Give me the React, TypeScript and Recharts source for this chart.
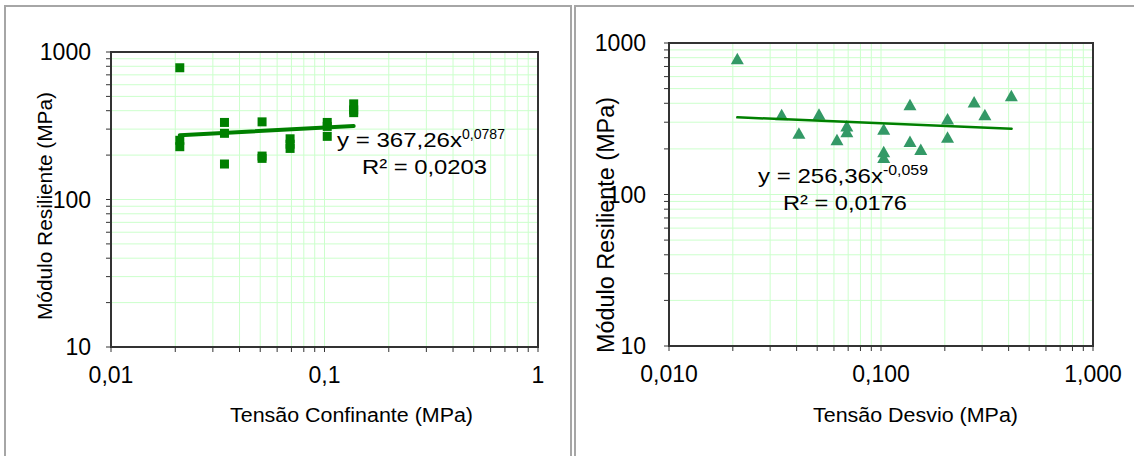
import React from 'react';
import {
  ScatterChart,
  Scatter,
  XAxis,
  YAxis,
  CartesianGrid,
  ReferenceArea,
} from 'recharts';

// ensaio triaxial: 18 pares de tensões e o módulo medido em cada um
const tensaoConfinante = [
  0.021, 0.021, 0.021, 0.034, 0.034, 0.034, 0.051, 0.051, 0.051,
  0.069, 0.069, 0.069, 0.103, 0.103, 0.103, 0.137, 0.137, 0.137,
];
const tensaoDesvio = [
  0.021, 0.041, 0.062, 0.034, 0.069, 0.103, 0.051, 0.103, 0.154,
  0.069, 0.137, 0.206, 0.103, 0.206, 0.309, 0.137, 0.275, 0.412,
];
const moduloResiliente = [
  782, 252, 228, 333, 281, 174, 336, 190, 197,
  258, 222, 237, 268, 313, 333, 388, 405, 445,
];

// extremos das linhas de tendência (potência)
const trendConfinante = [
  { x: 0.021, y: 273 },
  { x: 0.137, y: 315 },
];
const trendDesvio = [
  { x: 0.021, y: 323 },
  { x: 0.413, y: 272 },
];

const xTicks = [
  0.01, 0.02, 0.03, 0.04, 0.05, 0.06, 0.07, 0.08, 0.09,
  0.1, 0.2, 0.3, 0.4, 0.5, 0.6, 0.7, 0.8, 0.9, 1,
];
const yTicks = [
  10, 20, 30, 40, 50, 60, 70, 80, 90,
  100, 200, 300, 400, 500, 600, 700, 800, 900, 1000,
];
const xLabelsConfinante = new Map([[0.01, '0,01'], [0.1, '0,1'], [1, '1']]);
const xLabelsDesvio = new Map([[0.01, '0,010'], [0.1, '0,100'], [1, '1,000']]);
const yLabels = new Map([[10, '10'], [100, '100'], [1000, '1000']]);

const confinanteData = tensaoConfinante.map((x, i) => ({ x, y: moduloResiliente[i] }));
const desvioData = tensaoDesvio.map((x, i) => ({ x, y: moduloResiliente[i] }));

const FONT = '"Liberation Sans", Arial, sans-serif';
const TICK_SIZE = 23;
const axisDark = '#333333';
const gridGreen = '#ccffcc';

const Square = (props: any) => {
  const { cx, cy } = props;
  return <rect x={cx - 4.5} y={cy - 4.5} width={9} height={9} fill='#008000' />;
};

const Triangle = (props: any) => {
  const { cx, cy } = props;
  return (
    <polygon
      points={`${cx},${cy - 6.5} ${cx + 6.5},${cy + 5} ${cx - 6.5},${cy + 5}`}
      fill='#339966'
    />
  );
};

const NoDot = () => <g />;

interface PanelProps {
  width: number;
  margin: { top: number; right: number; bottom: number; left: number };
  data: { x: number; y: number }[];
  trend: { x: number; y: number }[];
  xLabels: Map<number, string>;
  shape: (p: any) => React.ReactElement;
  trendWidth: number;
  yTickMargin: number;
}

const LogPanel: React.FC<PanelProps> = ({
  width,
  margin,
  data,
  trend,
  xLabels,
  shape,
  trendWidth,
  yTickMargin,
}) => (
  <ScatterChart width={width} height={456} margin={margin}>
    <CartesianGrid stroke={gridGreen} strokeWidth={1} />
    <XAxis
      type='number'
      dataKey='x'
      scale='log'
      domain={[0.01, 1]}
      allowDataOverflow
      ticks={xTicks}
      interval={0}
      height={30}
      tickSize={5}
      tickMargin={15}
      fontSize={TICK_SIZE}
      fontFamily={FONT}
      tick={{ fill: '#000', fontSize: TICK_SIZE, fontFamily: FONT }}
      tickLine={{ stroke: axisDark }}
      axisLine={{ stroke: axisDark, strokeWidth: 2 }}
      tickFormatter={(v: number) => xLabels.get(v) ?? ''}
    />
    <YAxis
      type='number'
      dataKey='y'
      scale='log'
      domain={[10, 1000]}
      allowDataOverflow
      ticks={yTicks}
      interval={0}
      width={60}
      tickSize={5}
      tickMargin={yTickMargin}
      fontSize={TICK_SIZE}
      fontFamily={FONT}
      tick={{ fill: '#000', fontSize: TICK_SIZE, fontFamily: FONT }}
      tickLine={{ stroke: axisDark }}
      axisLine={{ stroke: axisDark, strokeWidth: 2 }}
      tickFormatter={(v: number) => yLabels.get(v) ?? ''}
    />
    <ReferenceArea
      x1={0.01}
      x2={1}
      y1={10}
      y2={1000}
      fill='none'
      stroke={axisDark}
      strokeWidth={2}
      ifOverflow='visible'
    />
    <Scatter data={data} shape={shape} isAnimationActive={false} />
    <Scatter
      data={trend}
      shape={NoDot}
      line={{ stroke: '#008000', strokeWidth: trendWidth, strokeLinecap: 'round' }}
      isAnimationActive={false}
    />
  </ScatterChart>
);

const App: React.FC = () => {
  return (
    <div
      style={{
        position: 'absolute',
        left: 0,
        top: 0,
        width: 1134,
        height: 456,
        background: '#fff',
        overflow: 'hidden',
        fontFamily: FONT,
      }}
    >
      {/* molduras dos dois quadros */}
      <div
        style={{
          position: 'absolute',
          left: 4,
          top: 5,
          width: 564,
          height: 460,
          border: '2px solid #a6a6a6',
        }}
      />
      <div
        style={{
          position: 'absolute',
          left: 574,
          top: 5,
          width: 570,
          height: 460,
          border: '2px solid #a6a6a6',
        }}
      />

      <div style={{ position: 'absolute', left: 0, top: 0 }}>
        <LogPanel
          width={570}
          margin={{ top: 52, right: 32, bottom: 79, left: 51 }}
          data={confinanteData}
          trend={trendConfinante}
          xLabels={xLabelsConfinante}
          shape={Square}
          trendWidth={4}
          yTickMargin={15}
        />
      </div>
      <div style={{ position: 'absolute', left: 572, top: 0 }}>
        <LogPanel
          width={562}
          margin={{ top: 43, right: 41, bottom: 80, left: 37 }}
          data={desvioData}
          trend={trendDesvio}
          xLabels={xLabelsDesvio}
          shape={Triangle}
          trendWidth={2.5}
          yTickMargin={18}
        />
      </div>

      {/* títulos dos eixos e equações das tendências */}
      <svg
        width={1134}
        height={456}
        style={{ position: 'absolute', left: 0, top: 0, pointerEvents: 'none' }}
        fontFamily={FONT}
        fill='#000'
      >
        <text
          transform='translate(52,206) rotate(-90)'
          textAnchor='middle'
          fontSize={20}
          textLength={228}
          lengthAdjust='spacingAndGlyphs'
        >
          Módulo Resiliente (MPa)
        </text>
        <text x={230} y={422} fontSize={20} textLength={243} lengthAdjust='spacingAndGlyphs'>
          Tensão Confinante (MPa)
        </text>
        <text x={337} y={147} fontSize={21} textLength={125} lengthAdjust='spacingAndGlyphs'>
          y = 367,26x
        </text>
        <text x={462} y={139} fontSize={14} textLength={43} lengthAdjust='spacingAndGlyphs'>
          0,0787
        </text>
        <text x={362} y={174} fontSize={21} textLength={125} lengthAdjust='spacingAndGlyphs'>
          R² = 0,0203
        </text>

        <text
          transform='translate(614,225) rotate(-90)'
          textAnchor='middle'
          fontSize={23}
          textLength={256}
          lengthAdjust='spacingAndGlyphs'
        >
          Módulo Resiliente (MPa)
        </text>
        <text x={813} y={422} fontSize={20} textLength={205} lengthAdjust='spacingAndGlyphs'>
          Tensão Desvio (MPa)
        </text>
        <text x={758} y={183} fontSize={21} textLength={125} lengthAdjust='spacingAndGlyphs'>
          y = 256,36x
        </text>
        <text x={883} y={175} fontSize={14} textLength={45} lengthAdjust='spacingAndGlyphs'>
          -0,059
        </text>
        <text x={783} y={210} fontSize={21} textLength={124} lengthAdjust='spacingAndGlyphs'>
          R² = 0,0176
        </text>
      </svg>
    </div>
  );
};

export default App;
